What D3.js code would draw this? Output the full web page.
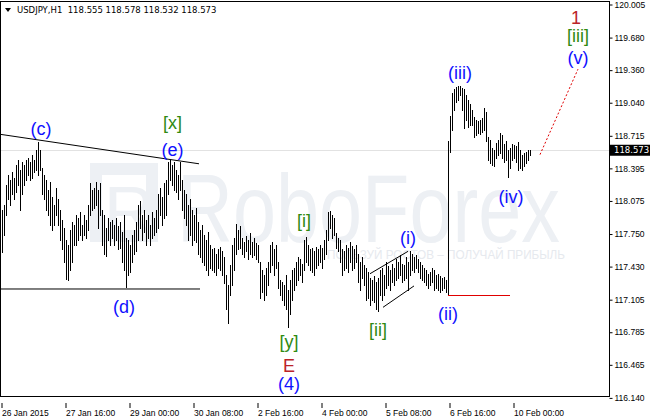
<!DOCTYPE html>
<html>
<head>
<meta charset="utf-8">
<script src="https://cdn.jsdelivr.net/npm/d3@7"></script>
<style>
  body { margin: 0; background: #fff; }
  svg { display: block; }
</style>
</head>
<body>
<div id="chart"></div>
<script>

// USDJPY H1 bars, high / low per hour (26 Jan 08:00 -> 10 Feb 08:00)
var highs = [
  117.99, 118.04, 118.23, 118.33, 118.28, 118.36, 118.30, 118.43, 118.48, 118.38,
  118.46, 118.43, 118.48, 118.50, 118.46, 118.53, 118.48, 118.58, 118.65, 118.58,
  118.40, 118.33, 118.28, 118.18, 118.26, 118.11, 118.04, 118.20, 118.09, 117.99,
  117.89, 117.81, 117.69, 117.64, 117.79, 117.87, 117.84, 117.94, 117.91, 117.97,
  117.84, 117.94, 117.89, 118.04, 118.25, 118.18, 118.20, 118.26, 118.18, 118.25,
  117.99, 117.94, 117.81, 117.91, 117.87, 117.89, 117.84, 117.91, 117.83, 117.87,
  117.77, 117.94, 117.71, 117.69, 117.64, 117.74, 117.79, 117.87, 118.04, 118.07,
  117.94, 117.99, 117.89, 117.94, 117.84, 117.97, 117.91, 117.99, 118.14, 118.20,
  118.11, 118.25, 118.28, 118.46, 118.48, 118.43, 118.46, 118.38, 118.33, 118.46,
  118.28, 118.18, 118.14, 118.04, 118.09, 117.99, 117.94, 118.01, 117.87, 117.79,
  117.84, 117.74, 117.69, 117.77, 117.64, 117.60, 117.61, 117.55, 117.60, 117.62,
  117.58, 117.52, 117.35, 117.25, 117.45, 117.64, 117.71, 117.85, 117.79, 117.83,
  117.71, 117.67, 117.73, 117.69, 117.76, 117.67, 117.71, 117.66, 117.64, 117.48,
  117.40, 117.35, 117.42, 117.48, 117.64, 117.67, 117.60, 117.64, 117.48, 117.30,
  117.28, 117.25, 117.35, 117.20, 117.30, 117.40, 117.42, 117.48, 117.52, 117.50,
  117.46, 117.69, 117.72, 117.64, 117.60, 117.61, 117.58, 117.62, 117.60, 117.64,
  117.61, 117.69, 117.79, 117.97, 117.98, 117.94, 117.91, 117.76, 117.71, 117.69,
  117.60, 117.58, 117.64, 117.61, 117.67, 117.63, 117.60, 117.64, 117.55, 117.48,
  117.52, 117.45, 117.42, 117.38, 117.32, 117.30, 117.34, 117.28, 117.32, 117.40,
  117.42, 117.35, 117.48, 117.44, 117.40, 117.46, 117.42, 117.50, 117.48, 117.54,
  117.46, 117.45, 117.52, 117.48, 117.58, 117.55, 117.52, 117.54, 117.50, 117.48,
  117.45, 117.42, 117.40, 117.36, 117.38, 117.42, 117.40, 117.35, 117.36, 117.34,
  117.32, 117.33, 117.30, 118.66, 118.91, 119.14, 119.17, 119.19, 119.20, 119.20,
  119.18, 119.17, 119.12, 119.07, 119.03, 118.97, 118.90, 118.87, 118.86, 118.87,
  118.89, 118.99, 118.95, 118.70, 118.67, 118.60, 118.58, 118.64, 118.67, 118.74,
  118.72, 118.63, 118.66, 118.58, 118.60, 118.63, 118.62, 118.61, 118.65, 118.58,
  118.53, 118.55, 118.56, 118.58, 118.58
];
var lows = [
  117.57, 117.74, 117.94, 118.09, 118.04, 118.14, 118.09, 118.16, 118.23, 117.99,
  118.14, 118.23, 118.28, 118.33, 118.28, 118.30, 118.36, 118.38, 118.33, 118.38,
  118.14, 118.09, 117.99, 117.94, 117.84, 117.79, 117.84, 117.94, 117.84, 117.69,
  117.60, 117.48, 117.31, 117.30, 117.40, 117.48, 117.64, 117.64, 117.69, 117.74,
  117.69, 117.74, 117.71, 117.79, 117.94, 117.99, 118.01, 118.04, 117.81, 117.94,
  117.64, 117.55, 117.53, 117.69, 117.64, 117.71, 117.64, 117.69, 117.60, 117.61,
  117.48, 117.40, 117.23, 117.35, 117.38, 117.48, 117.55, 117.58, 117.69, 117.81,
  117.69, 117.77, 117.64, 117.71, 117.64, 117.71, 117.74, 117.77, 117.81, 117.94,
  117.84, 117.91, 117.94, 118.14, 118.28, 118.23, 118.18, 118.16, 118.09, 118.18,
  117.99, 117.91, 117.84, 117.69, 117.74, 117.64, 117.69, 117.67, 117.55, 117.52,
  117.48, 117.45, 117.40, 117.35, 117.42, 117.40, 117.38, 117.35, 117.42, 117.40,
  117.35, 117.27, 117.01, 116.88, 117.15, 117.25, 117.40, 117.55, 117.60, 117.61,
  117.55, 117.52, 117.58, 117.50, 117.55, 117.52, 117.54, 117.50, 117.48, 117.12,
  117.18, 117.10, 117.15, 117.25, 117.38, 117.45, 117.35, 117.42, 117.22, 117.15,
  117.10, 117.05, 117.01, 116.84, 116.96, 117.10, 117.20, 117.25, 117.30, 117.35,
  117.28, 117.40, 117.48, 117.45, 117.40, 117.38, 117.35, 117.42, 117.45, 117.48,
  117.42, 117.50, 117.55, 117.69, 117.81, 117.71, 117.74, 117.61, 117.58, 117.48,
  117.35, 117.40, 117.42, 117.38, 117.48, 117.40, 117.42, 117.48, 117.28, 117.20,
  117.32, 117.25, 117.10, 117.12, 117.05, 117.10, 117.08, 117.01, 116.99, 117.15,
  117.10, 117.15, 117.22, 117.25, 117.20, 117.28, 117.25, 117.30, 117.32, 117.35,
  117.28, 117.30, 117.32, 117.20, 117.35, 117.40, 117.38, 117.42, 117.38, 117.32,
  117.30, 117.28, 117.25, 117.22, 117.25, 117.28, 117.20, 117.22, 117.20, 117.18,
  117.20, 117.22, 117.18, 117.15, 118.56, 118.77, 118.97, 119.05, 119.07, 119.12,
  118.97, 118.79, 118.87, 118.80, 118.82, 118.82, 118.70, 118.72, 118.74, 118.73,
  118.75, 118.77, 118.66, 118.48, 118.45, 118.43, 118.42, 118.50, 118.53, 118.55,
  118.50, 118.46, 118.48, 118.31, 118.40, 118.48, 118.50, 118.46, 118.38, 118.40,
  118.38, 118.42, 118.45, 118.48, 118.53
];

var priceTicks = [120.005, 119.680, 119.360, 119.040, 118.715, 118.395, 118.075,
  117.750, 117.430, 117.105, 116.785, 116.465, 116.140];
var timeTicks = [0, 32, 64, 96, 128, 160, 192, 224, 256];
var timeLabels = ["26 Jan 2015", "27 Jan 16:00", "29 Jan 00:00", "30 Jan 08:00",
  "2 Feb 16:00", "4 Feb 00:00", "5 Feb 08:00", "6 Feb 16:00", "10 Feb 00:00"];
var symbol = "USDJPY,H1";
var lastOHLC = [118.555, 118.578, 118.532, 118.573];

// wave marks: text, bar index, price, colour group
var waveText = ["(c)", "[x]", "(e)", "(d)", "[i]", "[y]", "E", "(4)", "[ii]", "(i)", "(ii)", "(iii)", "(iv)", "1", "[iii]", "(v)"];
var waveBar = [19.5, 85.3, 85.3, 61, 151, 143.5, 143.5, 143.5, 188, 203, 223, 229, 254.5, 287, 288, 288];
var wavePrice = [118.79, 118.85, 118.58, 117.04, 117.88, 116.69, 116.46, 116.28, 116.81, 117.72, 116.97, 119.34, 118.12, 119.88, 119.70, 119.48];
var waveKind = ["b", "g", "b", "b", "g", "g", "r", "b", "g", "b", "b", "b", "b", "r", "g", "b"];

// drawn lines: bar1, price1, bar2, price2, kind
var drawLines = [
  [-1, 118.73, 98.5, 118.44, "solid"],
  [-1, 117.21, 99, 117.21, "solid"],
  [184, 117.36, 203, 117.58, "solid"],
  [190.5, 117.03, 206, 117.24, "solid"],
  [223, 117.15, 254, 117.15, "red"],
  [269, 118.53, 288, 119.37, "dots"]
];

var width = 650, height = 420;
var plotRight = 609, plotBottom = 396;
var colors = { b: "#1010ff", g: "#2f8a12", r: "#bb2329" };

var svg = d3.select("#chart")
  .append("svg")
  .attr("width", width)
  .attr("height", height)
  .style("font-family", "'DejaVu Sans', sans-serif");

svg.append("rect").attr("width", width).attr("height", height).attr("fill", "#fff");

var x = d3.scaleLinear().domain([0, 264]).range([2, 530]);
var y = d3.scaleLinear().domain([116.140, 120.005]).range([397.9, 4.5]);

// watermark
var wm = svg.append("g").attr("fill", "#edf0f4");
wm.append("rect")
  .attr("x", 96).attr("y", 169).attr("width", 56).attr("height", 67)
  .attr("fill", "none").attr("stroke", "#edf0f4").attr("stroke-width", 12);
wm.append("text")
  .attr("x", 104).attr("y", 236)
  .style("font-family", "'Liberation Sans', Arial, sans-serif")
  .style("font-size", "70px")
  .text("R");
wm.append("text")
  .attr("x", 177).attr("y", 242)
  .attr("textLength", 383).attr("lengthAdjust", "spacingAndGlyphs")
  .style("font-family", "'Liberation Sans', Arial, sans-serif")
  .style("font-size", "97px")
  .text("RoboForex");
wm.append("text")
  .attr("x", 327).attr("y", 259)
  .attr("textLength", 238).attr("lengthAdjust", "spacingAndGlyphs")
  .attr("fill", "#e6e9ee")
  .style("font-family", "'Liberation Sans', Arial, sans-serif")
  .style("font-size", "12px")
  .text("ПОЛЬЗУЙ РОСТОВ – ПОЛУЧАЙ ПРИБЫЛЬ");

// bid line
svg.append("line")
  .attr("x1", 0).attr("x2", plotRight)
  .attr("y1", Math.round(y(lastOHLC[3])) + 0.5)
  .attr("y2", Math.round(y(lastOHLC[3])) + 0.5)
  .attr("stroke", "#e2e2e2");

// bars
svg.append("g")
  .attr("stroke", "#000")
  .attr("shape-rendering", "crispEdges")
  .selectAll("line")
  .data(highs)
  .join("line")
  .attr("x1", function (d, i) { return Math.round(x(i)) + 0.5; })
  .attr("x2", function (d, i) { return Math.round(x(i)) + 0.5; })
  .attr("y1", function (d) { return Math.round(y(d)); })
  .attr("y2", function (d, i) { return Math.round(y(lows[i])) + 1; });

// trend lines / channel
svg.append("g")
  .selectAll("line")
  .data(drawLines)
  .join("line")
  .attr("x1", function (d) { return x(d[0]); })
  .attr("y1", function (d) { return y(d[1]); })
  .attr("x2", function (d) { return x(d[2]); })
  .attr("y2", function (d) { return y(d[3]); })
  .attr("stroke", function (d) { return d[4] == "solid" ? "#000" : "#e00000"; })
  .attr("stroke-width", 1)
  .attr("stroke-dasharray", function (d) { return d[4] == "dots" ? "2,2" : null; })
  .attr("shape-rendering", function (d) { return d[4] == "red" ? "crispEdges" : null; });

// wave labels
svg.append("g")
  .style("font-family", "'Liberation Sans', Arial, sans-serif")
  .style("font-size", "18px")
  .attr("text-anchor", "middle")
  .selectAll("text")
  .data(waveText)
  .join("text")
  .attr("x", function (d, i) { return x(waveBar[i]); })
  .attr("y", function (d, i) { return y(wavePrice[i]); })
  .attr("dy", "0.36em")
  .attr("fill", function (d, i) { return colors[waveKind[i]]; })
  .text(function (d) { return d; });

// frame
svg.append("rect")
  .attr("x", 0.5).attr("y", 1.5)
  .attr("width", plotRight).attr("height", plotBottom - 1)
  .attr("fill", "none").attr("stroke", "#000")
  .attr("shape-rendering", "crispEdges");

// price axis
var yAxis = svg.append("g")
  .attr("transform", "translate(" + (plotRight + 0.5) + ",0)")
  .call(d3.axisRight(y).tickValues(priceTicks).tickSize(3).tickFormat(d3.format(".3f")));
yAxis.select(".domain").remove();
yAxis.selectAll("text").style("font-size", "8.5px").attr("x", 5).attr("fill", "#000");
yAxis.selectAll("line").attr("stroke", "#000");

// time axis
var xAxis = svg.append("g")
  .attr("transform", "translate(-0.5," + (plotBottom + 7) + ")")
  .call(d3.axisBottom(x).tickValues(timeTicks).tickSize(5)
    .tickFormat(function (d, i) { return timeLabels[i]; }));
xAxis.select(".domain").remove();
xAxis.selectAll("text")
  .style("font-size", "8.5px")
  .attr("text-anchor", "start")
  .attr("x", 0).attr("y", 7).attr("fill", "#000");
xAxis.selectAll("line").attr("stroke", "#000");

// last price tag
var tagY = y(lastOHLC[3]);
svg.append("rect")
  .attr("x", plotRight + 1).attr("y", tagY - 5.5)
  .attr("width", 40).attr("height", 11)
  .attr("fill", "#000");
svg.append("text")
  .attr("x", plotRight + 5).attr("y", tagY)
  .attr("dy", "0.35em")
  .attr("fill", "#fff")
  .style("font-size", "8.5px")
  .text(d3.format(".3f")(lastOHLC[3]));

// header
svg.append("path")
  .attr("d", "M5,8 L11,8 L8,12 Z")
  .attr("fill", "#000");
svg.append("text")
  .attr("x", 17).attr("y", 13)
  .style("font-size", "8.5px")
  .attr("fill", "#000")
  .attr("xml:space", "preserve")
  .text(symbol + "  " + lastOHLC.map(d3.format(".3f")).join(" "));

</script>
</body>
</html>
